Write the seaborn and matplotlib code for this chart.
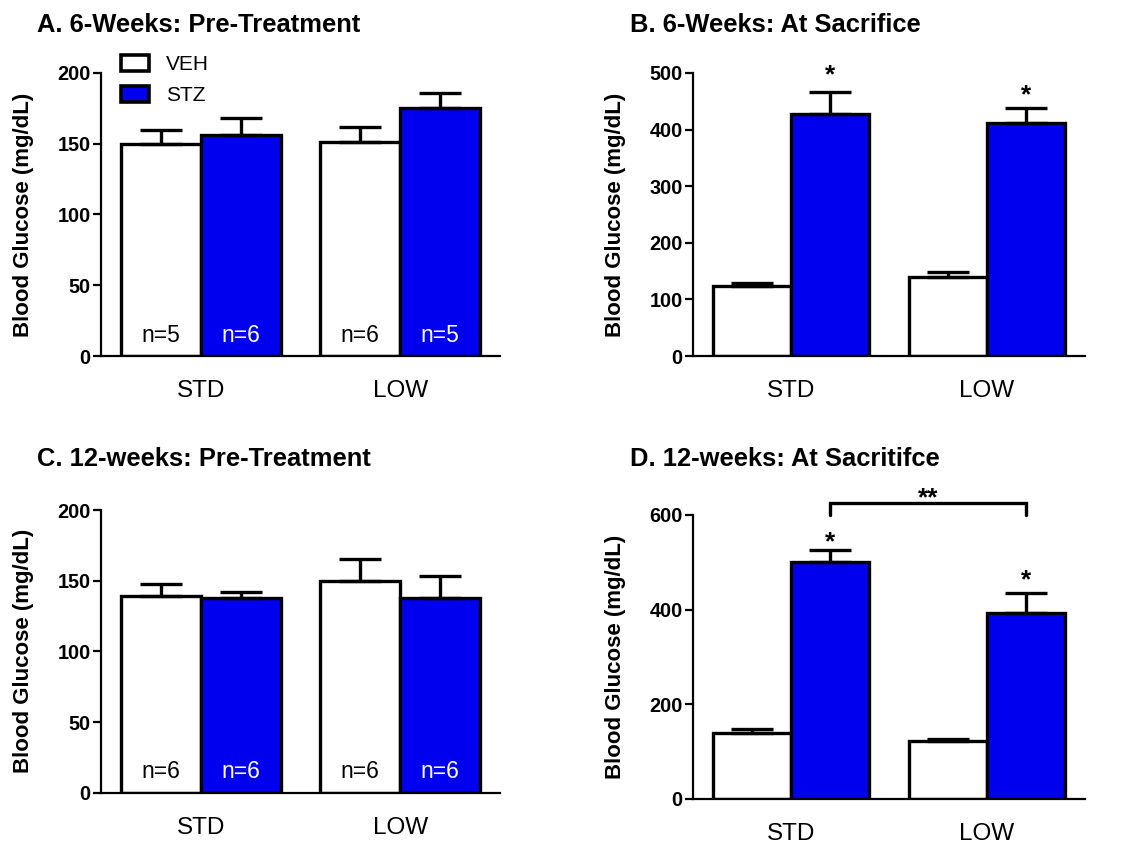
import numpy as np
import pandas as pd
import matplotlib
matplotlib.use("Agg")
import matplotlib.pyplot as plt
import seaborn as sns

# ---------------- data ----------------
diets = ["STD", "LOW"]
groups = ["VEH", "STZ"]

a_veh = [150, 151]
a_veh_err = [10, 11]
a_stz = [156, 175]
a_stz_err = [12, 11]
a_n = [["n=5", "n=6"], ["n=6", "n=5"]]  # [VEH per diet], [STZ per diet]

b_veh = [123, 140]
b_veh_err = [6, 8]
b_stz = [428, 412]
b_stz_err = [38, 26]

c_veh = [139, 150]
c_veh_err = [9, 15]
c_stz = [137.5, 138]
c_stz_err = [4.5, 15]
c_n = [["n=6", "n=6"], ["n=6", "n=6"]]

d_veh = [140, 122]
d_veh_err = [7, 5]
d_stz = [501, 392]
d_stz_err = [24, 44]

titles = ["A. 6-Weeks: Pre-Treatment", "B. 6-Weeks: At Sacrifice",
          "C. 12-weeks: Pre-Treatment", "D. 12-weeks: At Sacritifce"]
ylabel = "Blood Glucose (mg/dL)"

palette = {"VEH": "white", "STZ": "#0000ee"}

# ---------------- style ----------------
sns.set_style("ticks")
plt.rcParams["font.family"] = ["Liberation Sans", "DejaVu Sans"]
for k in ("text.color", "axes.labelcolor", "xtick.color", "ytick.color",
          "axes.edgecolor"):
    plt.rcParams[k] = "black"

W, H = 1123, 846
fig = plt.figure(figsize=(W / 100, H / 100), dpi=100)


def rect(left, right, bottom, top):
    return [left / W, 1 - bottom / H, (right - left) / W, (bottom - top) / H]


def panel(r, veh, veh_err, stz, stz_err, ymax, ystep, nlab=None,
          star_offsets=None, bracket=None, legend=False):
    ax = fig.add_axes(r)
    df = pd.DataFrame({
        "Diet": diets * 2,
        "Group": [groups[0]] * 2 + [groups[1]] * 2,
        "Glucose": list(veh) + list(stz),
    })
    sns.barplot(data=df, x="Diet", y="Glucose", hue="Group", order=diets,
                hue_order=groups, palette=palette, edgecolor="black",
                linewidth=2.4, errorbar=None, width=0.8, saturation=1,
                legend=legend, ax=ax)
    bar_containers = list(ax.containers)
    errs = [veh_err, stz_err]
    centers = {}
    for gi, (cont, ee) in enumerate(zip(bar_containers, errs)):
        for di, (bar, e) in enumerate(zip(cont, ee)):
            x = bar.get_x() + bar.get_width() / 2
            h = bar.get_height()
            centers[(gi, di)] = (x, h + e)
            ax.errorbar([x], [h], yerr=[[0], [e]], fmt="none", ecolor="black",
                        elinewidth=2.4, capsize=15, capthick=2.4, zorder=4,
                        clip_on=False)
            if nlab is not None:
                ax.annotate(nlab[gi][di], (x, 0), xytext=(0, 15),
                            textcoords="offset points", ha="center",
                            va="center", fontsize=16.5,
                            color="black" if gi == 0 else "white")
    if star_offsets is not None:
        for di, off in enumerate(star_offsets):
            x, top = centers[(1, di)]
            ax.annotate("*", (x, top), xytext=(0, off),
                        textcoords="offset points", ha="center",
                        va="baseline", fontsize=19, fontweight="bold",
                        annotation_clip=False)
    if bracket is not None:
        y0, y1 = bracket
        x0 = centers[(1, 0)][0]
        x1 = centers[(1, 1)][0]
        ax.plot([x0, x0, x1, x1], [y0, y1, y1, y0], color="black", lw=2.4,
                clip_on=False, solid_joinstyle="miter")
        ax.annotate("**", ((x0 + x1) / 2, y1), xytext=(0, -2),
                    textcoords="offset points", ha="center", va="baseline",
                    fontsize=19, fontweight="bold", annotation_clip=False)

    ax.set_xlim(-0.5, 1.5)
    ax.set_ylim(0, ymax)
    ax.set_yticks(np.arange(0, ymax + 1, ystep))
    sns.despine(ax=ax)
    for s in ("left", "bottom"):
        ax.spines[s].set_linewidth(1.6)
    ax.tick_params(axis="y", length=6, width=1.6, pad=1.5, labelsize=14.3)
    ax.tick_params(axis="x", length=0, pad=17.5, labelsize=17.5)
    for t in ax.get_yticklabels():
        t.set_fontweight("bold")
    ax.set_xlabel("")
    ax.set_ylabel(ylabel, fontsize=16, fontweight="bold", labelpad=16.5)

    if legend:
        leg = ax.get_legend()
        handles = list(leg.legend_handles)
        labels = [t.get_text() for t in leg.get_texts()]
        leg.remove()
        for h in handles:
            h.set_edgecolor("black")
            h.set_linewidth(2.6)
        ax.legend(handles, labels, loc="upper left",
                  bbox_to_anchor=(121 / W, 1 - 55 / H),
                  bbox_transform=fig.transFigure, frameon=False, fontsize=15,
                  handlelength=1.35, handleheight=0.82, handletextpad=0.8,
                  labelspacing=0.56, borderpad=0, borderaxespad=0)
    return ax


panel(rect(101, 500, 356, 73), a_veh, a_veh_err, a_stz, a_stz_err, 200, 50,
      nlab=a_n, legend=True)
panel(rect(693, 1085, 356, 73), b_veh, b_veh_err, b_stz, b_stz_err, 500, 100,
      star_offsets=[7, 4])
panel(rect(101, 500, 792.7, 510), c_veh, c_veh_err, c_stz, c_stz_err, 200, 50,
      nlab=c_n)
panel(rect(693, 1085, 798.7, 515), d_veh, d_veh_err, d_stz, d_stz_err, 600, 200,
      star_offsets=[0.5, 3.5], bracket=(600, 626))

title_pos = [(37, 32), (630, 32), (37, 466), (630, 466)]
for t, (x, y) in zip(titles, title_pos):
    fig.text(x / W, 1 - y / H, t, ha="left", va="baseline", fontsize=18.4,
             fontweight="bold")

fig.savefig("out.png", dpi=100)
